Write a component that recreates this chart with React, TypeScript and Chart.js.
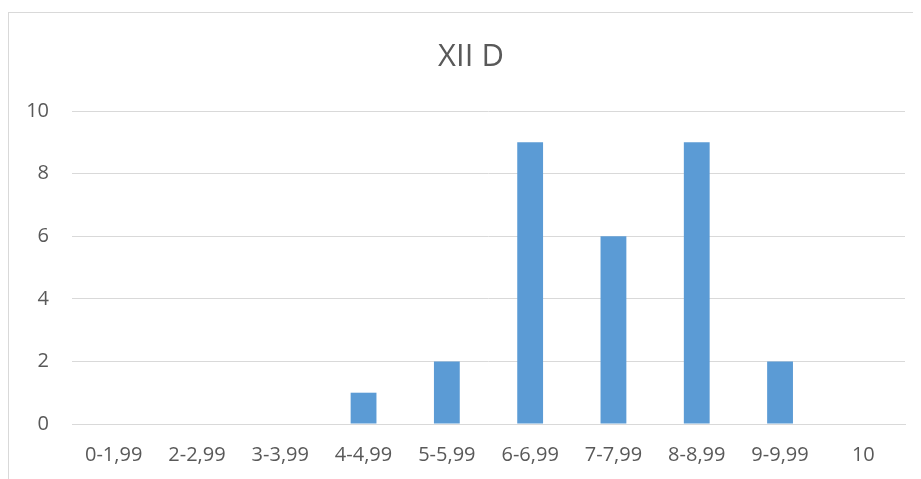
import React, { useEffect, useRef } from "react";
import { Chart, registerables } from "chart.js";

Chart.register(...registerables);

const categories = ["0-1,99", "2-2,99", "3-3,99", "4-4,99", "5-5,99", "6-6,99", "7-7,99", "8-8,99", "9-9,99", "10"];
const counts = [0, 0, 0, 1, 2, 9, 6, 9, 2, 0];
const chartTitle = "XII D";

export default function App() {
  const ref = useRef<HTMLCanvasElement>(null);
  useEffect(() => {
    document.body.style.overflow = "hidden";
    const ctx = ref.current!;
    const font = "'Open Sans', 'Liberation Sans', sans-serif";
    const chart = new Chart(ctx, {
      type: "bar",
      data: {
        labels: categories,
        datasets: [
          {
            data: counts,
            backgroundColor: "#5B9BD5",
            borderWidth: 0,
            barPercentage: 0.62,
            categoryPercentage: 0.5,
          },
        ],
      },
      options: {
        animation: false,
        responsive: false,
        maintainAspectRatio: false,
        layout: { padding: { left: 0, right: 0, top: 0, bottom: 13 } },
        plugins: {
          legend: { display: false },
          tooltip: { enabled: false },
          title: {
            display: true,
            text: chartTitle,
            color: "#595959",
            font: { family: font, size: 31, weight: "normal" },
            padding: { top: 25.4, bottom: 35.4 },
          },
        },
        scales: {
          x: {
            grid: { display: false, drawTicks: false },
            border: { display: true, color: "#d9d9d9", width: 1 },
            ticks: { color: "#595959", font: { family: font, size: 20 }, padding: 19, maxRotation: 0, autoSkip: false },
            afterFit: (axis: any) => {
              axis.height = 42;
            },
          },
          y: {
            min: 0,
            max: 10,
            grid: { color: "#d9d9d9", lineWidth: 1, drawTicks: false },
            border: { display: false },
            ticks: { stepSize: 2, color: "#595959", font: { family: font, size: 20 }, padding: 23 },
            afterFit: (axis: any) => {
              axis.width = 63;
            },
          },
          spacer: {
            type: "linear",
            position: "right",
            display: true,
            grid: { display: false, drawTicks: false },
            border: { display: false },
            ticks: { display: false },
            afterFit: (axis: any) => {
              axis.width = 28;
            },
          },
        },
      },
    });
    return () => chart.destroy();
  }, []);
  return (
    <div style={{ paddingTop: 4 }}>
      <div
        style={{
          width: 924,
          height: 466,
          borderTop: "1px solid #d9d9d9",
          borderLeft: "1px solid #d9d9d9",
        }}
      >
        <canvas ref={ref} width={924} height={466} style={{ display: "block" }} />
      </div>
    </div>
  );
}
